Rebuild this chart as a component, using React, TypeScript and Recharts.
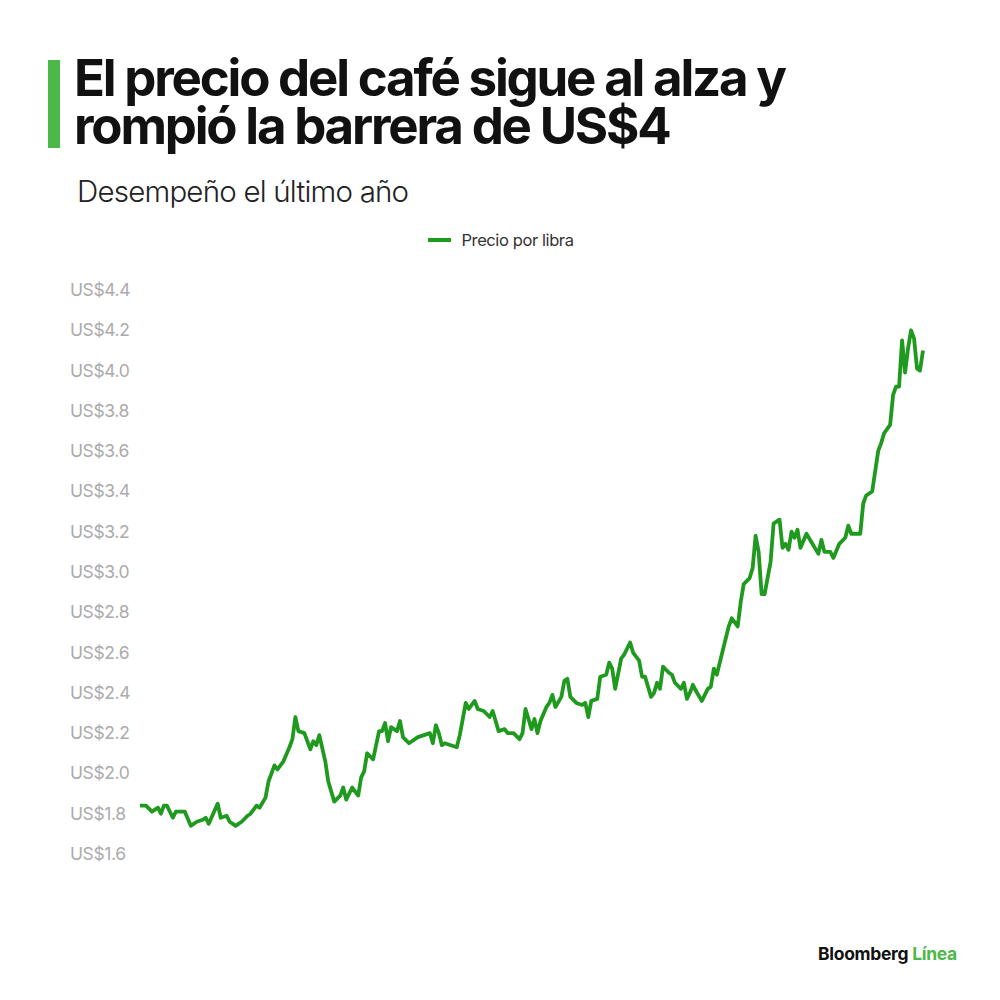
import { LineChart, Line, XAxis, YAxis, Legend } from 'recharts';

// trading day index (approx. position along the year) and price per pound in US$
const days = [
  0, 2, 4, 6, 7, 8, 9, 11, 12, 15, 17, 19, 21, 22, 23, 26, 27, 29, 30, 32,
  34, 36, 37, 39, 40, 42, 43, 45, 46, 48, 50, 51, 52, 53, 55, 57, 58, 59, 60, 62,
  63, 65, 67, 68, 69, 71, 73, 74, 75, 76, 78, 80, 81, 82, 83, 84, 86, 87, 88, 90,
  92, 93, 95, 97, 98, 99, 100, 101, 102, 104, 106, 107, 109, 110, 112, 113, 115, 117, 118, 119,
  120, 122, 123, 125, 127, 128, 129, 130, 131, 132, 133, 134, 136, 137, 138, 139, 141, 142, 143, 144,
  146, 148, 149, 150, 151, 153, 154, 156, 157, 158, 159, 161, 162, 164, 165, 167, 168, 169, 171, 172,
  173, 174, 175, 177, 178, 179, 181, 182, 183, 184, 185, 186, 188, 190, 191, 192, 193, 195, 197, 198,
  200, 201, 202, 204, 205, 206, 207, 208, 209, 211, 212, 214, 215, 216, 217, 218, 219, 220, 221, 223,
  225, 227, 228, 229, 231, 232, 234, 236, 237, 238, 241, 242, 243, 245, 247, 248, 249, 251, 252, 253,
  254, 255, 256, 257, 258, 259, 260, 261, 262,
];
const prices = [
  1.84, 1.84, 1.81, 1.83, 1.8, 1.84, 1.84, 1.78, 1.81, 1.81, 1.74, 1.76, 1.77, 1.78, 1.75, 1.85, 1.78, 1.79, 1.76, 1.74,
  1.76, 1.79, 1.8, 1.84, 1.83, 1.88, 1.96, 2.04, 2.02, 2.06, 2.13, 2.17, 2.28, 2.21, 2.2, 2.12, 2.16, 2.14, 2.19, 2.06,
  1.96, 1.86, 1.89, 1.93, 1.87, 1.93, 1.89, 1.98, 2.01, 2.1, 2.07, 2.21, 2.21, 2.25, 2.16, 2.23, 2.21, 2.26, 2.18, 2.15,
  2.17, 2.18, 2.19, 2.2, 2.15, 2.24, 2.2, 2.14, 2.15, 2.14, 2.13, 2.19, 2.35, 2.32, 2.36, 2.32, 2.31, 2.28, 2.31, 2.26,
  2.21, 2.22, 2.2, 2.2, 2.17, 2.2, 2.32, 2.27, 2.22, 2.27, 2.2, 2.26, 2.33, 2.35, 2.39, 2.33, 2.38, 2.46, 2.47, 2.38,
  2.35, 2.34, 2.35, 2.28, 2.36, 2.37, 2.48, 2.49, 2.55, 2.52, 2.42, 2.57, 2.59, 2.65, 2.6, 2.56, 2.48, 2.48, 2.38, 2.4,
  2.45, 2.42, 2.53, 2.5, 2.49, 2.45, 2.42, 2.45, 2.37, 2.4, 2.44, 2.41, 2.36, 2.42, 2.43, 2.52, 2.49, 2.61, 2.73, 2.77,
  2.73, 2.85, 2.94, 2.97, 3.02, 3.18, 3.1, 2.89, 2.89, 3.05, 3.24, 3.26, 3.12, 3.14, 3.11, 3.2, 3.17, 3.21, 3.12, 3.19,
  3.14, 3.09, 3.16, 3.1, 3.1, 3.07, 3.14, 3.17, 3.23, 3.19, 3.19, 3.34, 3.38, 3.4, 3.6, 3.64, 3.69, 3.73, 3.88, 3.92,
  3.92, 4.15, 3.99, 4.11, 4.2, 4.16, 4.01, 4.0, 4.1,
];
const yTicks = [1.6, 1.8, 2.0, 2.2, 2.4, 2.6, 2.8, 3.0, 3.2, 3.4, 3.6, 3.8, 4.0, 4.2, 4.4];

const data = days.map((d, i) => ({ day: d, price: prices[i] }));

const GREEN = '#1f9a1f';
const FONT = 'Inter, "Noto Sans", sans-serif';

const YTick = ({ y, payload }: any) => (
  <text x={70} y={y} dy={6} textAnchor="start" fill="#ababab" fontSize={17.5} fontFamily={FONT} letterSpacing={-0.4}>
    {`US$${payload.value.toFixed(1)}`}
  </text>
);

const LegendContent = () => (
  <div style={{ display: 'flex', alignItems: 'center', justifyContent: 'center', fontFamily: FONT, fontSize: 16.5, lineHeight: '20px', color: '#333', letterSpacing: -0.4, paddingLeft: 2 }}>
    <span style={{ display: 'inline-block', width: 23, height: 4, background: GREEN, marginRight: 10 }} />
    Precio por libra
  </div>
);

export default function App() {
  return (
    <div style={{ position: 'absolute', left: 0, top: 0, width: 1000, height: 1000, background: '#fff', overflow: 'hidden' }}>
      <div style={{ position: 'absolute', left: 48, top: 60, width: 12, height: 88, background: '#4cb848' }} />
      <div
        style={{
          position: 'absolute', left: 74, top: 54, fontFamily: FONT, fontWeight: 700, fontSize: 51,
          lineHeight: '48px', letterSpacing: -2.2, color: '#111', whiteSpace: 'nowrap',
        }}
      >
        El precio del café sigue al alza y<br />rompió la barrera de US$4
      </div>
      <div style={{ position: 'absolute', left: 77, top: 173, fontFamily: FONT, fontWeight: 300, fontSize: 29.5, letterSpacing: -0.8, color: '#222', whiteSpace: 'nowrap' }}>
        Desempeño el último año
      </div>

      <div style={{ position: 'absolute', left: 0, top: 0 }}>
        <LineChart width={1000} height={1000} data={data} margin={{ top: 270, right: 77, bottom: 146, left: 0 }}>
          <XAxis dataKey="day" type="number" domain={[0, 262]} hide />
          <YAxis
            type="number"
            domain={[1.6, 4.4]}
            ticks={yTicks}
            width={140}
            axisLine={false}
            tickLine={false}
            tick={<YTick />}
            interval={0}
          />
          <Legend verticalAlign="top" height={20} content={<LegendContent />} wrapperStyle={{ top: 230, left: 0, width: 1000 }} />
          <Line
            type="linear"
            dataKey="price"
            name="Precio por libra"
            stroke={GREEN}
            strokeWidth={3.8}
            strokeLinejoin="round"
            dot={false}
            isAnimationActive={false}
          />
        </LineChart>
      </div>

      <div style={{ position: 'absolute', left: 818, top: 943, fontFamily: FONT, fontWeight: 700, fontSize: 17.5, letterSpacing: -0.3, whiteSpace: 'nowrap' }}>
        <span style={{ color: '#111' }}>Bloomberg </span>
        <span style={{ color: '#4cb848' }}>Línea</span>
      </div>
    </div>
  );
}
